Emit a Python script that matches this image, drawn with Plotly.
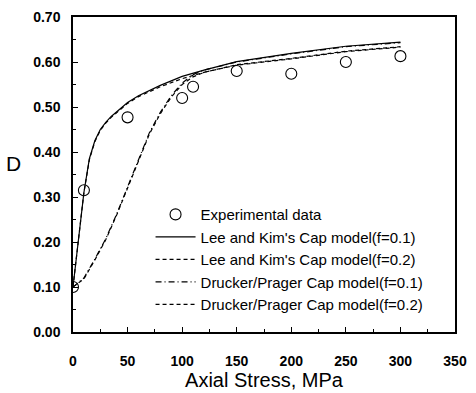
import plotly.graph_objects as go

# Experimental data
exp_x = [0, 10, 50, 100, 110, 150, 200, 250, 300]
exp_d = [0.10, 0.315, 0.477, 0.52, 0.545, 0.58, 0.574, 0.60, 0.613]

# Lee and Kim's Cap model
lk_x = [0, 5, 10, 15, 20, 25, 30, 35, 40, 50, 60, 80, 100, 120, 150, 200, 250, 300]
lk1_d = [0.10, 0.20, 0.31, 0.385, 0.425, 0.45, 0.466, 0.479, 0.49, 0.51, 0.525, 0.548, 0.568, 0.582, 0.601, 0.619, 0.635, 0.644]
lk2_d = [0.10, 0.20, 0.31, 0.383, 0.423, 0.448, 0.464, 0.477, 0.488, 0.508, 0.523, 0.545, 0.563, 0.577, 0.594, 0.608, 0.624, 0.634]

# Drucker/Prager Cap model
dp_x = [0, 10, 20, 30, 40, 50, 60, 70, 80, 90, 100, 110, 120, 150, 200, 250, 300]
dp1_d = [0.10, 0.12, 0.162, 0.207, 0.262, 0.322, 0.385, 0.443, 0.488, 0.525, 0.553, 0.572, 0.582, 0.600, 0.618, 0.634, 0.643]
dp2_d = [0.10, 0.118, 0.16, 0.205, 0.26, 0.32, 0.383, 0.44, 0.485, 0.522, 0.55, 0.567, 0.577, 0.593, 0.607, 0.623, 0.633]

names = ["Experimental data",
         "Lee and Kim's Cap model(f=0.1)",
         "Lee and Kim's Cap model(f=0.2)",
         "Drucker/Prager Cap model(f=0.1)",
         "Drucker/Prager Cap model(f=0.2)"]

x_ticks = [0, 50, 100, 150, 200, 250, 300, 350]
y_ticks = [0.0, 0.1, 0.2, 0.3, 0.4, 0.5, 0.6, 0.7]

FONT = "Liberation Sans, Arial, sans-serif"

fig = go.Figure()
fig.add_trace(go.Scatter(x=lk_x, y=lk1_d, mode="lines", name=names[1], legendgroup="b",
                         line=dict(color="black", width=1.2)))
fig.add_trace(go.Scatter(x=lk_x, y=lk2_d, mode="lines", name=names[2], legendgroup="c",
                         line=dict(color="black", width=1.2, dash="4px,3px")))
fig.add_trace(go.Scatter(x=dp_x, y=dp1_d, mode="lines", name=names[3], legendgroup="d",
                         line=dict(color="black", width=1.2, dash="6px,3px,1px,3px")))
fig.add_trace(go.Scatter(x=dp_x, y=dp2_d, mode="lines", name=names[4], legendgroup="e",
                         line=dict(color="black", width=1.2, dash="4px,3px")))
fig.add_trace(go.Scatter(x=exp_x, y=exp_d, mode="markers", name=names[0], legendgroup="a",
                         legendrank=1,
                         marker=dict(symbol="circle-open", size=11, color="black",
                                     line=dict(width=1.1, color="black"))))
for i, tr in enumerate(fig.data[:4]):
    tr.legendrank = i + 2

fig.update_layout(
    width=476, height=393,
    margin=dict(l=73, r=13, t=9, b=59),
    paper_bgcolor="white", plot_bgcolor="white",
    font=dict(family=FONT, color="black"),
    showlegend=True,
    legend=dict(x=0.203, y=0.425, xanchor="left", yanchor="top",
                bgcolor="rgba(0,0,0,0)", font=dict(size=15, family=FONT),
                traceorder="grouped", tracegroupgap=0, itemwidth=40),
    xaxis=dict(range=[0, 350], tickvals=x_ticks, ticktext=[str(v) for v in x_ticks],
               ticks="inside", ticklen=5, tickwidth=1.2, tickcolor="black",
               minor=dict(dtick=25, ticks="inside", ticklen=3, tickcolor="black"),
               showline=True, linecolor="black", linewidth=1.5, mirror=True,
               showgrid=False, zeroline=False,
               tickfont=dict(size=14, family=FONT, weight="bold"),
               ticklabelstandoff=15,
               title=dict(text="Axial Stress, MPa", font=dict(size=20, family=FONT), standoff=1)),
    yaxis=dict(range=[0, 0.7], tickvals=y_ticks, ticktext=["%.2f" % v for v in y_ticks],
               ticks="inside", ticklen=5, tickwidth=1.2, tickcolor="black",
               minor=dict(dtick=0.05, ticks="inside", ticklen=3, tickcolor="black"),
               showline=True, linecolor="black", linewidth=1.5, mirror=True,
               showgrid=False, zeroline=False,
               tickfont=dict(size=14, family=FONT, weight="bold"),
               ticklabelstandoff=8),
    annotations=[dict(text="D", xref="paper", yref="paper", x=-0.157, y=0.535,
                      xanchor="center", yanchor="middle", showarrow=False,
                      font=dict(size=21, family=FONT))],
)

fig.write_html("out.html")
